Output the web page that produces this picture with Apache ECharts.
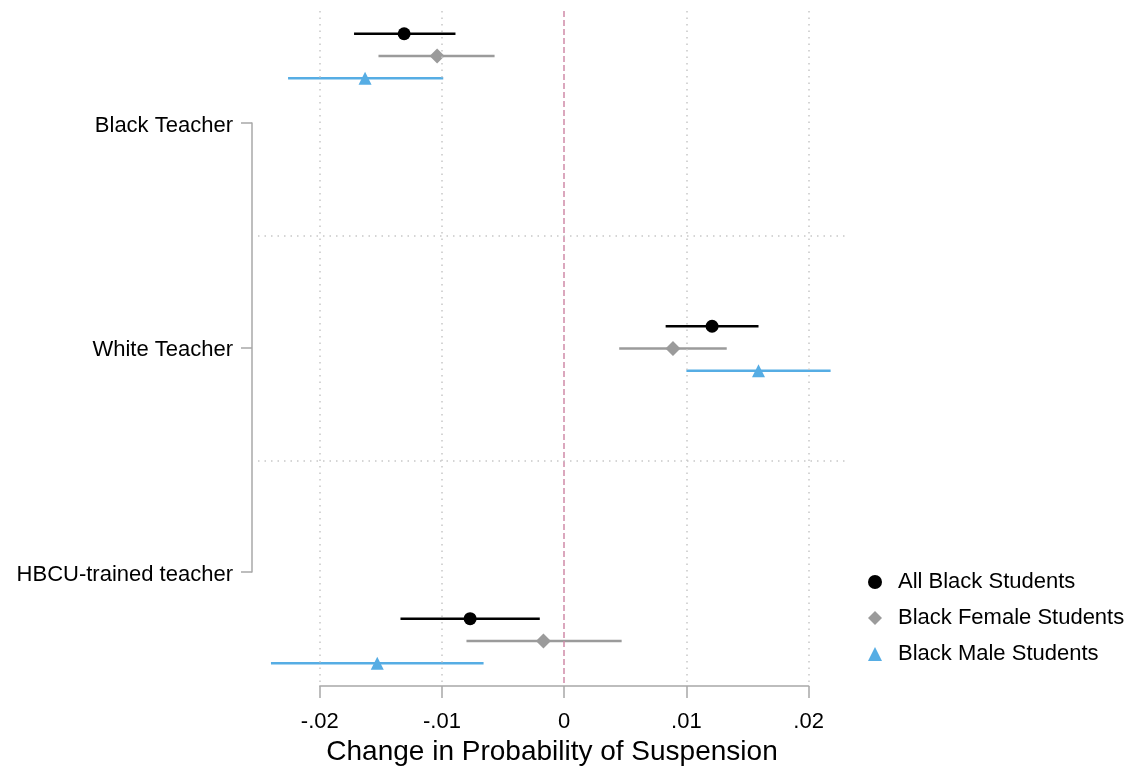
<!DOCTYPE html>
<html>
<head>
<meta charset="utf-8">
<script src="https://cdn.jsdelivr.net/npm/echarts@6/dist/echarts.min.js"></script>
<style>html,body{margin:0;padding:0;background:#fff}#c{width:1136px;height:769px}</style>
</head>
<body>
<div id="c"></div>
<script>
// ---- data ----
var groups = ['Black Teacher', 'White Teacher', 'HBCU-trained teacher'];
var seriesNames = ['All Black Students', 'Black Female Students', 'Black Male Students'];
// point estimates per group (Black, White, HBCU)
var allEst   = [-0.0131, 0.0121, -0.0077];
var allLo    = [-0.0172, 0.0083, -0.0134];
var allHi    = [-0.0089, 0.0159, -0.0020];
var femEst   = [-0.0104, 0.0089, -0.0017];
var femLo    = [-0.0152, 0.0045, -0.0080];
var femHi    = [-0.0057, 0.0133, 0.0047];
var maleEst  = [-0.0163, 0.0159, -0.0153];
var maleLo   = [-0.0226, 0.0100, -0.0240];
var maleHi   = [-0.0099, 0.0218, -0.0066];
var xTicks = [-0.02, -0.01, 0, 0.01, 0.02];
var xTickLabels = ['-.02', '-.01', '0', '.01', '.02'];
// vertical positions (plot units 0..100, top to bottom)
var groupPos = [6.67, 50, 93.33];
var rowOffset = [-3.3, 0, 3.3];
var yGridLines = [33.33, 66.67];

var colors = ['#000000', '#9b9b9b', '#56ade4'];
var symbols = ['circle', 'diamond', 'triangle'];
var symbolSizes = [13, 15, 13];
var lineWidths = [2.6, 2.5, 2.6];
var est = [allEst, femEst, maleEst];
var lo = [allLo, femLo, maleLo];
var hi = [allHi, femHi, maleHi];

var series = [];
for (var s = 0; s < 3; s++) {
  var ciData = [], ptData = [];
  for (var g = 0; g < 3; g++) {
    var y = groupPos[g] + rowOffset[s];
    ciData.push([lo[s][g], hi[s][g], y]);
    ptData.push([est[s][g], y]);
  }
  (function (lw, col) {
    series.push({
      type: 'custom', name: seriesNames[s], xAxisIndex: 0, yAxisIndex: 0,
      data: ciData, silent: true, z: 3,
      renderItem: function (params, api) {
        var p1 = api.coord([api.value(0), api.value(2)]);
        var p2 = api.coord([api.value(1), api.value(2)]);
        return { type: 'line', shape: { x1: p1[0], y1: p1[1], x2: p2[0], y2: p2[1] },
                 style: { stroke: col, lineWidth: lw } };
      }
    });
  })(lineWidths[s], colors[s]);
  series.push({
    type: 'scatter', name: seriesNames[s], xAxisIndex: 0, yAxisIndex: 0,
    data: ptData, symbol: symbols[s], symbolSize: symbolSizes[s], z: 4,
    itemStyle: { color: colors[s], opacity: 1 }
  });
}

// reference lines
var vLines = [];
xTicks.forEach(function (v) {
  if (v === 0) {
    vLines.push({ xAxis: v, lineStyle: { color: '#d08aa8', type: [6, 3], width: 1.5 } });
  } else {
    vLines.push({ xAxis: v, lineStyle: { color: '#c8c8c8', type: [1.5, 5], width: 1.5 } });
  }
});
yGridLines.forEach(function (v) {
  vLines.push({ yAxis: v, lineStyle: { color: '#c8c8c8', type: [1.5, 5], width: 1.5 } });
});
series.push({
  type: 'line', data: [], xAxisIndex: 0, yAxisIndex: 0, z: 1,
  markLine: { silent: true, symbol: 'none', label: { show: false }, data: vLines }
});

var option = {
  animation: false,
  backgroundColor: '#ffffff',
  textStyle: { fontFamily: 'Liberation Sans, Arial, sans-serif' },
  grid: [
    { left: 258, right: 290, top: 11, bottom: 83, outerBoundsMode: 'none', containLabel: false },
    { left: 252, right: 290, top: 123, bottom: 197, outerBoundsMode: 'none', containLabel: false },
    { left: 319.8, right: 327.4, top: 600, bottom: 83, outerBoundsMode: 'none', containLabel: false }
  ],
  xAxis: [
    { gridIndex: 0, type: 'value', min: -0.02506, max: 0.02306,
      axisLine: { show: false }, axisTick: { show: false }, axisLabel: { show: false },
      splitLine: { show: false },
      name: 'Change in Probability of Suspension', nameLocation: 'middle', nameGap: 52,
      nameTextStyle: { fontSize: 28, color: '#000' } },
    { gridIndex: 1, type: 'value', show: false },
    { gridIndex: 2, type: 'value', min: xTicks[0], max: xTicks[xTicks.length - 1], interval: 0.01,
      axisLine: { show: true, lineStyle: { color: '#a8a8a8', width: 1.5 } },
      axisTick: { show: true, length: 12, lineStyle: { color: '#a8a8a8', width: 1.5 } },
      axisLabel: { fontSize: 22, color: '#000', margin: 25,
        formatter: function (v) {
          for (var i = 0; i < xTicks.length; i++) if (Math.abs(xTicks[i] - v) < 1e-9) return xTickLabels[i];
          return '';
        } },
      splitLine: { show: false } }
  ],
  yAxis: [
    { gridIndex: 0, type: 'value', min: 0, max: 100, inverse: true, show: false },
    { gridIndex: 1, type: 'category', data: groups, boundaryGap: false, inverse: true,
      axisLine: { show: true, lineStyle: { color: '#a8a8a8', width: 1.5 } },
      axisTick: { show: true, length: 11, lineStyle: { color: '#a8a8a8', width: 1.5 } },
      axisLabel: { color: '#000', margin: 19,
        formatter: function (v) { return '{t|' + v + '}'; },
        rich: { t: { fontSize: 22, color: '#000', padding: [5, 0, 0, 0] } } },
      splitLine: { show: false } },
    { gridIndex: 2, type: 'value', show: false }
  ],
  legend: {
    orient: 'vertical', left: 868, top: 571, itemGap: 14, padding: 0,
    itemWidth: 14, itemHeight: 14,
    textStyle: { fontSize: 22, color: '#000', padding: [0, 0, 0, 11] },
    data: [
      { name: seriesNames[0], icon: 'circle', itemStyle: { color: colors[0] } },
      { name: seriesNames[1], icon: 'diamond', itemStyle: { color: colors[1] } },
      { name: seriesNames[2], icon: 'triangle', itemStyle: { color: colors[2] } }
    ],
    selectedMode: false
  },
  series: series
};
var chart = echarts.init(document.getElementById('c'), null, { renderer: 'canvas' });
chart.setOption(option);
</script>
</body>
</html>
